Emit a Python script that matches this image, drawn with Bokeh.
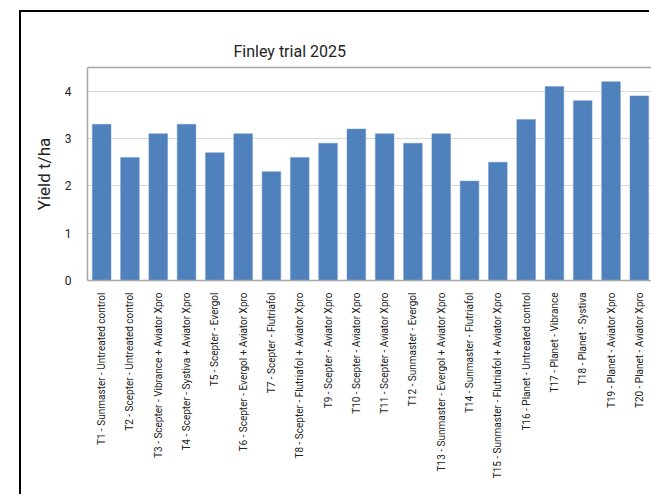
from bokeh.plotting import figure
from bokeh.models import LinearAxis, Range1d, FixedTicker, Title
from bokeh.embed import file_html
from bokeh.resources import INLINE
import math

treatments = [
    "T1 - Sunmaster - Untreated control",
    "T2 - Scepter - Untreated control",
    "T3 - Scepter - Vibrance + Aviator Xpro",
    "T4 - Scepter - Systiva + Aviator Xpro",
    "T5 - Scepter - Evergol",
    "T6 - Scepter - Evergol + Aviator Xpro",
    "T7 - Scepter - Flutriafol",
    "T8 - Scepter - Flutriafol + Aviator Xpro",
    "T9 - Scepter - Aviator Xpro",
    "T10 - Scepter - Aviator Xpro",
    "T11 - Scepter - Aviator Xpro",
    "T12 - Sunmaster - Evergol",
    "T13 - Sunmaster - Evergol + Aviator Xpro",
    "T14 - Sunmaster - Flutriafol",
    "T15 - Sunmaster - Flutriafol + Aviator Xpro",
    "T16 - Planet - Untreated control",
    "T17 - Planet - Vibrance",
    "T18 - Planet - Systiva",
    "T19 - Planet - Aviator Xpro",
    "T20 - Planet - Aviator Xpro",
]
yield_t_ha = [3.3, 2.6, 3.1, 3.3, 2.7, 3.1, 2.3, 2.6, 2.9, 3.2,
              3.1, 2.9, 3.1, 2.1, 2.5, 3.4, 4.1, 3.8, 4.2, 3.9]
y_ticks = [0, 1, 2, 3, 4]

FONT = "Roboto"
positions = [i + 0.5 for i in range(len(treatments))]

p = figure(width=630, height=484, output_backend="svg", toolbar_location=None,
           x_range=Range1d(0, 19.93), y_range=Range1d(0, 4.5),
           min_border_left=66, min_border_right=0, min_border_top=55,
           min_border_bottom=216, margin=(12, 0, 0, 21))
# outer chart frame: black line on the left and top (drawn as a shadow, no layout effect)
p.styles = {"box-shadow": "-2px -2px 0px 0px #000000"}
p.outline_line_color = None
p.background_fill_color = "white"
p.border_fill_color = "white"

p.title = Title(text="Finley trial 2025", align="left", offset=146,
                text_font=FONT, text_font_size="16px", text_font_style="normal",
                text_color="#222222", standoff=14)

p.vbar(x=positions, top=yield_t_ha, width=0.66, fill_color="#4f81bd",
       line_color="#6e97c9", line_width=0.5)

# x axis
xa = p.xaxis[0]
xa.ticker = FixedTicker(ticks=positions)
xa.major_label_overrides = {pos: lab for pos, lab in zip(positions, treatments)}
xa.major_label_orientation = math.pi / 2
xa.major_label_text_font = FONT
xa.major_label_text_font_size = "10px"
xa.major_label_text_color = "#222222"
xa.major_tick_line_color = None
xa.minor_tick_line_color = None
xa.axis_line_color = "#a6a6a6"
xa.axis_line_width = 1.5
xa.major_label_standoff = 6

# y axis
ya = p.yaxis[0]
ya.ticker = FixedTicker(ticks=y_ticks)
ya.axis_label = "Yield t/ha"
ya.axis_label_text_font = FONT
ya.axis_label_text_font_size = "17px"
ya.axis_label_text_font_style = "normal"
ya.axis_label_text_color = "#222222"
ya.major_label_text_font = FONT
ya.major_label_text_font_size = "12px"
ya.major_label_text_color = "#222222"
ya.major_tick_line_color = None
ya.minor_tick_line_color = None
ya.axis_line_color = "#a6a6a6"
ya.axis_line_width = 1.5
ya.major_label_standoff = 10
ya.axis_label_standoff = 8

# top frame line
top = LinearAxis(ticker=FixedTicker(ticks=[]), axis_line_color="#a6a6a6",
                 axis_line_width=1.5, major_tick_line_color=None,
                 minor_tick_line_color=None, major_label_text_font_size="0px")
p.add_layout(top, "above")

p.xgrid.grid_line_color = None
p.ygrid.grid_line_color = "#d9d9d9"
p.ygrid.grid_line_width = 1

open("out.html", "w").write(file_html(p, INLINE))
